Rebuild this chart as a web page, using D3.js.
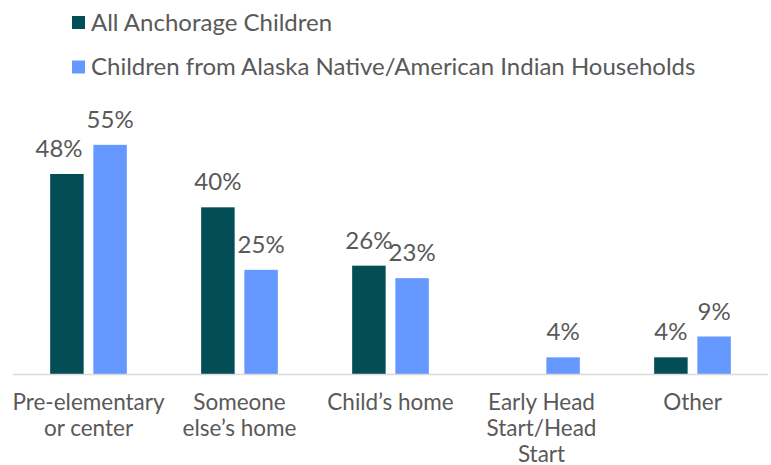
<!DOCTYPE html>
<html>
<head>
<meta charset="utf-8">
<script src="https://cdn.jsdelivr.net/npm/d3@7"></script>
<style>
  body { margin: 0; background: #fff; }
  text { font-family: Lato, "Noto Sans", sans-serif; fill: #595959; }
</style>
</head>
<body>
<script>
// chart data
const categories = ['Pre-elementary or center', 'Someone else\u2019s home', 'Child\u2019s home', 'Early Head Start/Head Start', 'Other'];
const tickLines = [['Pre-elementary', 'or center'], ['Someone', 'else\u2019s home'], ['Child\u2019s home'], ['Early Head', 'Start/Head', 'Start'], ['Other']];
const seriesNames = ['All Anchorage Children', 'Children from Alaska Native/American Indian Households'];
const allChildren = [48, 40, 26, 0, 4];
const nativeChildren = [55, 25, 23, 4, 9];
const colors = ['#034d57', '#6699ff'];

const width = 771, height = 465;

const svg = d3.select('body')
    .append('svg')
    .attr('width', width)
    .attr('height', height);

// scales
const x0 = d3.scaleBand()
    .domain(categories)
    .range([13, 768]);

const x1 = d3.scaleBand()
    .domain(seriesNames)
    .range([0, x0.bandwidth()])
    .paddingInner(0.225)
    .paddingOuter(0.86);

const y = d3.scaleLinear()
    .domain([0, 60])
    .range([374, 124]);

const rows = categories.map((c, i) => ({
    cat: c,
    vals: [allChildren[i], nativeChildren[i]]
}));

// bars
const groups = svg.selectAll('g.grp')
    .data(rows)
    .enter()
    .append('g')
    .attr('class', 'grp')
    .attr('transform', d => `translate(${x0(d.cat)},0)`);

groups.selectAll('rect')
    .data(d => d.vals.map((v, j) => ({ v, s: seriesNames[j], j })))
    .enter()
    .filter(d => d.v > 0)
    .append('rect')
    .attr('x', d => x1(d.s))
    .attr('y', d => y(d.v))
    .attr('width', x1.bandwidth())
    .attr('height', d => y(0) - y(d.v))
    .attr('fill', d => colors[d.j]);

// value labels
groups.each(function(d) {
    const g = d3.select(this);
    const labels = d.vals.map((v, j) => {
        if (v <= 0) return null;
        return g.append('text')
            .attr('x', x1(seriesNames[j]) + x1.bandwidth() / 2)
            .attr('y', y(v) - 17)
            .attr('text-anchor', 'middle')
            .style('font-size', '24px')
            .text(v + '%');
    });
    // nudge the first label left if it runs into the second one
    if (labels[0] && labels[1]) {
        const a = labels[0].node().getBBox();
        const b = labels[1].node().getBBox();
        const overlap = a.x + a.width - b.x;
        if (overlap > 0 && d.vals[0] < d.vals[1]) {
            labels[0].attr('x', +labels[0].attr('x') - overlap - 4);
        }
    }
});

// axis line
svg.append('line')
    .attr('x1', 13)
    .attr('x2', 768)
    .attr('y1', y(0) + 0.5)
    .attr('y2', y(0) + 0.5)
    .attr('stroke', '#d9d9d9')
    .attr('stroke-width', 1.5);

// category labels
const xAxis = svg.append('g')
    .attr('transform', `translate(0,${y(0)})`)
    .call(d3.axisBottom(x0).tickSize(0).tickFormat(''));
xAxis.select('.domain').remove();

xAxis.selectAll('.tick').each(function(d, i) {
    const t = d3.select(this).append('text')
        .attr('text-anchor', 'middle')
        .style('font-size', '22.5px');
    tickLines[i].forEach((line, k) => {
        t.append('tspan')
            .attr('x', 0)
            .attr('y', 36 + k * 26)
            .text(line);
    });
});

// legend
const legend = svg.append('g');
seriesNames.forEach((name, i) => {
    const ly = 22.5 + i * 44.5;
    legend.append('rect')
        .attr('x', 72)
        .attr('y', ly - 6.5)
        .attr('width', 13)
        .attr('height', 13)
        .attr('fill', colors[i]);
    legend.append('text')
        .attr('x', 91)
        .attr('y', ly)
        .attr('dy', '0.35em')
        .style('font-size', '24px')
        .text(name);
});
</script>
</body>
</html>
